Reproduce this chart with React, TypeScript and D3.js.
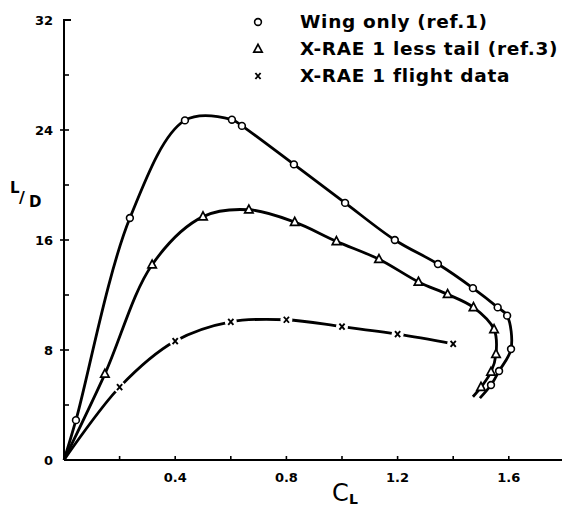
import React from "react";
import * as d3 from "d3";

// ---- data ----
const xTickValues = [0.2, 0.4, 0.6, 0.8, 1.0, 1.2, 1.4, 1.6, 1.8];
const xTickLabels = [0.4, 0.8, 1.2, 1.6];
const yTickValues = [4, 8, 12, 16, 20, 24, 28];
const yTickLabels = [0, 8, 16, 24, 32];

const wingCL = [0.043, 0.237, 0.435, 0.604, 0.64, 0.827, 1.011, 1.19, 1.345, 1.471, 1.56, 1.594, 1.608, 1.565, 1.536];
const wingLD = [2.9, 17.6, 24.7, 24.75, 24.3, 21.5, 18.7, 16.0, 14.25, 12.5, 11.1, 10.5, 8.07, 6.47, 5.45];
const wingCurveEnd = [1.496, 4.5];

const tailCL = [0.147, 0.317, 0.5, 0.665, 0.83, 0.98, 1.133, 1.275, 1.38, 1.473, 1.547, 1.554, 1.536, 1.5];
const tailLD = [6.25, 14.2, 17.7, 18.2, 17.3, 15.9, 14.6, 12.95, 12.05, 11.1, 9.5, 7.7, 6.4, 5.3];
const tailCurveEnd = [1.471, 4.6];

const flightCL = [0.2, 0.4, 0.6, 0.8, 1.0, 1.2, 1.4];
const flightLD = [5.3, 8.65, 10.05, 10.2, 9.7, 9.15, 8.45];

const legendLabels = ["Wing only (ref.1)", "X-RAE 1 less tail (ref.3)", "X-RAE 1 flight data"];

const W = 562;
const H = 508;
const FONT = "'DejaVu Sans', sans-serif";

const x = d3.scaleLinear().domain([0, 1.8]).range([64, 64 + 278 * 1.8]);
const y = d3.scaleLinear().domain([0, 32]).range([460, 20]);

const line = d3
  .line<[number, number]>()
  .x((d) => x(d[0]))
  .y((d) => y(d[1]))
  .curve(d3.curveCatmullRom.alpha(0.5));

const zip = (a: number[], b: number[]) => a.map((v, i) => [v, b[i]] as [number, number]);

const Circle = ({ cx, cy }: { cx: number; cy: number }) => (
  <circle cx={cx} cy={cy} r={3.4} fill="#fff" stroke="#000" strokeWidth={1.6} />
);
const Tri = ({ cx, cy }: { cx: number; cy: number }) => {
  const s = 4.2;
  return (
    <path
      d={`M${cx},${cy - s - 0.5}L${cx + s},${cy + s * 0.75}L${cx - s},${cy + s * 0.75}Z`}
      fill="#fff"
      stroke="#000"
      strokeWidth={1.7}
      strokeLinejoin="miter"
    />
  );
};
const Cross = ({ cx, cy }: { cx: number; cy: number }) => (
  <path
    d={`M${cx - 2.6},${cy - 3}L${cx + 2.6},${cy + 3}M${cx + 2.6},${cy - 3}L${cx - 2.6},${cy + 3}`}
    stroke="#000"
    strokeWidth={1.9}
    fill="none"
  />
);

export default function App() {
  const wingPts = zip(wingCL, wingLD);
  const tailPts = zip(tailCL, tailLD);
  const flightPts = zip(flightCL, flightLD);
  const wingPath = line([[0, 0], ...wingPts, wingCurveEnd as [number, number]]) || "";
  const tailPath = line([[0, 0], ...tailPts, tailCurveEnd as [number, number]]) || "";
  const flightPath = line([[0, 0], ...flightPts]) || "";

  const x0 = x(0);
  const y0 = y(0);

  return (
    <svg
      width={W}
      height={H}
      style={{ position: "absolute", left: 0, top: 0, background: "#fff" }}
      fontFamily={FONT}
    >
      <rect width={W} height={H} fill="#fff" />
      {/* axes */}
      <line x1={x0} y1={y0} x2={W} y2={y0} stroke="#000" strokeWidth={2} />
      <line x1={x0} y1={y0} x2={x0} y2={y(32)} stroke="#000" strokeWidth={2} />
      <line x1={x0 - 1} y1={y(32)} x2={x0 + 7} y2={y(32)} stroke="#000" strokeWidth={2} />
      {xTickValues.map((v) => (
        <line key={v} x1={x(v)} x2={x(v)} y1={y0} y2={y0 - 4} stroke="#000" strokeWidth={1.6} />
      ))}
      {yTickValues.map((v) => (
        <line
          key={v}
          x1={v % 8 === 0 ? x0 - 4 : x0}
          x2={x0 + 5}
          y1={y(v)}
          y2={y(v)}
          stroke="#000"
          strokeWidth={1.6}
        />
      ))}
      {xTickLabels.map((v) => (
        <text key={v} x={x(v)} y={y0 + 22} textAnchor="middle" fontSize={13} fontWeight="bold">
          {v.toFixed(1)}
        </text>
      ))}
      {yTickLabels.map((v) => (
        <text key={v} x={53} y={y(v) + 5} textAnchor="end" fontSize={13} fontWeight="bold">
          {v}
        </text>
      ))}
      {/* axis titles */}
      <text x={10} y={193} fontSize={15} fontWeight="bold">L</text>
      <text x={19} y={203} fontSize={16} fontWeight="bold">/</text>
      <text x={29} y={207} fontSize={15} fontWeight="bold">D</text>
      <text x={332} y={501} fontSize={24}>C</text>
      <text x={349} y={504} fontSize={14} fontWeight="bold">L</text>

      {/* curves */}
      <path d={wingPath} fill="none" stroke="#000" strokeWidth={2.8} />
      <path d={tailPath} fill="none" stroke="#000" strokeWidth={2.8} />
      <path d={flightPath} fill="none" stroke="#000" strokeWidth={2.8} />

      {/* markers */}
      {wingPts.map((d, i) => (
        <Circle key={i} cx={x(d[0])} cy={y(d[1])} />
      ))}
      {tailPts.map((d, i) => (
        <Tri key={i} cx={x(d[0])} cy={y(d[1])} />
      ))}
      {flightPts.map((d, i) => (
        <g key={i}>
          <circle cx={x(d[0])} cy={y(d[1])} r={6} fill="#fff" />
          <Cross cx={x(d[0])} cy={y(d[1])} />
        </g>
      ))}

      {/* legend */}
      <Circle cx={258} cy={22} />
      <Tri cx={258} cy={49} />
      <Cross cx={258} cy={76} />
      {legendLabels.map((t, i) => (
        <text key={t} x={300} y={28 + i * 27} fontSize={18.5} fontWeight="bold" letterSpacing={0.7}>
          {t}
        </text>
      ))}
    </svg>
  );
}
